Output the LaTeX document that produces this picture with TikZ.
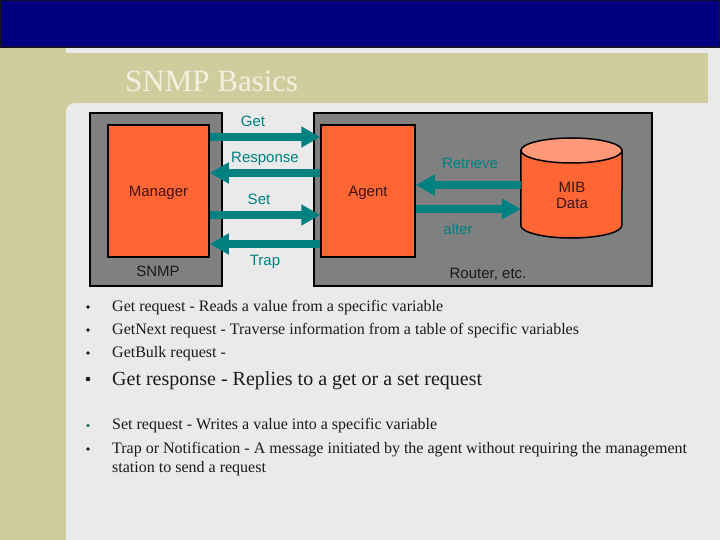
\documentclass[tikz,border=0pt]{standalone}
\usepackage{fontspec}
\setmainfont{Liberation Serif}
\setsansfont{Liberation Sans}
\usetikzlibrary{arrows.meta}
\definecolor{bg}{HTML}{EAEAEA}
\definecolor{olivebg}{HTML}{CFCD9E}
\definecolor{navybar}{HTML}{000080}
\definecolor{navyedge}{HTML}{12122E}
\definecolor{titlec}{HTML}{F2F0DE}
\definecolor{boxgray}{HTML}{808080}
\definecolor{orangef}{HTML}{FF6633}
\definecolor{cyltop}{HTML}{FF9977}
\definecolor{tealc}{HTML}{008080}
\definecolor{maroonc}{HTML}{401212}
\definecolor{darktext}{HTML}{1A1A1A}
\definecolor{tealdot}{HTML}{2A7070}
\begin{document}
\begin{tikzpicture}[x=1pt,y=-1pt,
  hostbox/.style={draw=black,line width=1.5pt,fill=boxgray,inner sep=0pt},
  orangebox/.style={draw=black,line width=1.5pt,fill=orangef,inner sep=0pt,
    text=maroonc,font=\sffamily\fontsize{15}{18}\selectfont,text depth=0pt},
  flow/.style={tealc,line width=7.5pt,-{Triangle[length=19pt,width=20pt]}},
  flowlabel/.style={text=tealc,font=\sffamily\fontsize{15}{18}\selectfont,anchor=base,inner sep=0pt},
  hostlabel/.style={text=darktext,font=\sffamily\fontsize{15}{18}\selectfont,anchor=base,inner sep=0pt},
  itemtext/.style={text=darktext,font=\fontsize{16}{19}\selectfont,anchor=base west,inner sep=0pt,align=left},
  bigitemtext/.style={text=darktext,font=\fontsize{20}{24}\selectfont,anchor=base west,inner sep=0pt},
  dot/.style={circle,fill=darktext,inner sep=0pt,minimum size=#1},
  dot/.default=3.8pt]
\useasboundingbox (0,0) rectangle (720,540);
% background
\fill[bg] (0,0) rectangle (720,540);
\fill[olivebg] (0,47) rectangle (66,540);
\fill[olivebg] (66,53) rectangle (708,103);
\fill[olivebg] (66,103) rectangle (75,112);
\fill[bg] (75,112) circle (9);
\fill[navybar] (0,0) rectangle (720,47);
\draw[navyedge,line width=1.5pt] (0.75,0.75) rectangle (719.25,47);
% title
\node[text=titlec,font=\fontsize{31}{36}\selectfont,anchor=base west,inner sep=0pt] (title) at (125,92) {SNMP Basics};
% host boxes
\node[hostbox,minimum width=132pt,minimum height=173pt] (snmpbox) at (156,199.5) {};
\node[hostbox,minimum width=338pt,minimum height=173pt] (routerbox) at (483,199.5) {};
\node[hostlabel] (snmplabel) at (158,276.5) {SNMP};
\node[hostlabel] (routerlabel) at (488,278) {Router, etc.};
% manager and agent
\node[orangebox,minimum width=101pt,minimum height=132pt] (manager) at (158.5,191) {Manager};
\node[orangebox,minimum width=94pt,minimum height=132pt] (agent) at (368,191) {Agent};
% MIB cylinder
\node[minimum width=101pt,minimum height=100pt,inner sep=0pt] (mib) at (571.5,188) {};
\filldraw[fill=orangef,draw=black,line width=1.5pt]
  (mib.west |- 0,150.5) -- (mib.west |- 0,225.5)
  arc[start angle=180,end angle=360,x radius=50.5,y radius=-12.5]
  -- (mib.east |- 0,150.5) -- cycle;
\filldraw[fill=cyltop,draw=black,line width=1.5pt] (mib.north |- 0,150.5) ellipse [x radius=50.5,y radius=12.5];
\node[text=maroonc,font=\sffamily\fontsize{15}{17}\selectfont,align=center,anchor=base,inner sep=0pt] (miblabel) at (572,209) {MIB\\Data};
% protocol arrows
\draw[flow] ([yshift=54pt]manager.east) -- ([yshift=54pt]agent.west);
\draw[flow] ([yshift=18pt]agent.west) -- ([yshift=18pt]manager.east);
\draw[flow] ([yshift=-24pt]manager.east) -- ([yshift=-24pt]agent.west);
\draw[flow] ([yshift=-53pt]agent.west) -- ([yshift=-53pt]manager.east);
\node[flowlabel] (getl) at (253,127) {Get};
\node[flowlabel] (respl) at (265,163) {Response};
\node[flowlabel] (setl) at (259,205) {Set};
\node[flowlabel] (trapl) at (265,265) {Trap};
% agent <-> MIB
\draw[flow] ([yshift=3pt]mib.west) -- ([yshift=6pt]agent.east);
\draw[flow] ([yshift=-18pt]agent.east) -- ([yshift=-21pt]mib.west);
\node[flowlabel] (retrl) at (470,169) {Retrieve};
\node[flowlabel] (alterl) at (458,234) {alter};
% bullet list
\node[dot] (d1) at (88,307) {};
\node[dot] (d2) at (88,330) {};
\node[dot] (d3) at (88,353) {};
\node[dot=4.6pt] (d4) at (88,379) {};
\node[dot,fill=tealdot] (d5) at (88,425.5) {};
\node[dot] (d6) at (88,449) {};
\node[itemtext] (t1) at (112,311) {Get request - Reads a value from a specific variable};
\node[itemtext] (t2) at (112,334) {GetNext request - Traverse information from a table of specific variables};
\node[itemtext] (t3) at (112,357.5) {GetBulk request -};
\node[bigitemtext] (t4) at (112,385) {Get response - Replies to a get or a set request};
\node[itemtext] (t5) at (112,429.5) {Set request - Writes a value into a specific variable};
\node[itemtext] (t6) at (112,453) {Trap or Notification - A message initiated by the agent without requiring the management};
\node[itemtext] (t7) at (112,472) {station to send a request};
\end{tikzpicture}
\end{document}
